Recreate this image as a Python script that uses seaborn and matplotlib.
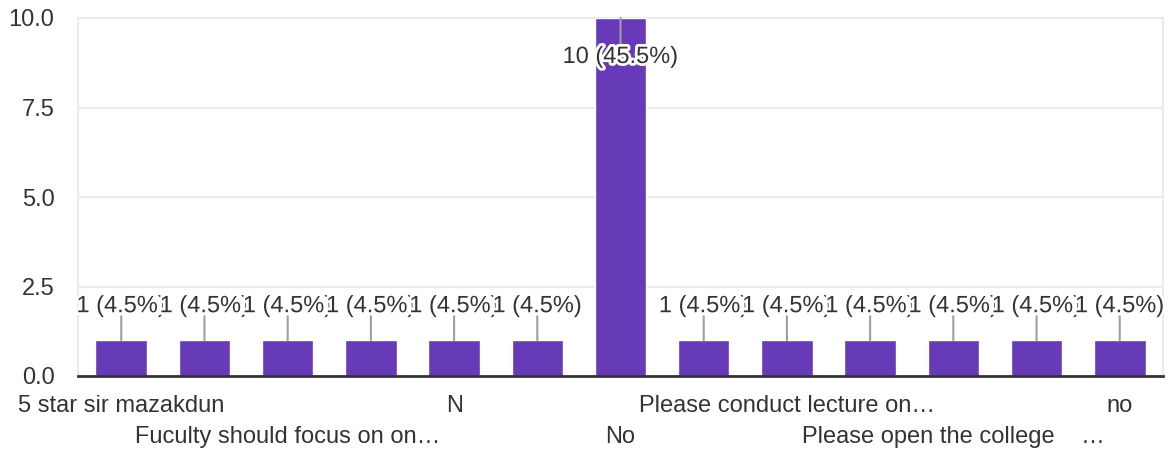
import matplotlib
matplotlib.use("Agg")
import matplotlib.pyplot as plt
import matplotlib.patheffects as pe
import seaborn as sns
import pandas as pd

# responses (only every other label is shown on the axis in the original)
responses = ["5 star sir mazakdun", "", "Fuculty should focus on on…", "", "N", "",
             "No", "", "Please conduct lecture on…", "", "Please open the college    …",
             "", "no"]
counts = [1, 1, 1, 1, 1, 1, 10, 1, 1, 1, 1, 1, 1]
yticks = [0.0, 2.5, 5.0, 7.5, 10.0]

total = sum(counts)
df = pd.DataFrame({"pos": list(range(len(counts))), "count": counts})

sns.set_theme(style="white")
plt.rcParams["font.family"] = ["Liberation Sans", "DejaVu Sans"]
FS = 17
TXT = "#333333"

fig = plt.figure(figsize=(11.72, 4.55), dpi=100)
ax = fig.add_axes([78 / 1172, 79 / 455, 1085 / 1172, 358 / 455])

sns.barplot(data=df, x="pos", y="count", color="#673ab7", saturation=1,
            width=0.62, ax=ax, zorder=3)

ax.set_xlim(-0.52, len(counts) - 0.48)
ax.set_ylim(0, 10)
ax.set_yticks(yticks)
ax.set_yticklabels([f"{t:.1f}" for t in yticks], fontsize=FS, color=TXT)
ax.yaxis.grid(True, color="#ebebeb", lw=1.5, zorder=0)
ax.set_xlabel("")
ax.set_ylabel("")

# visible labels alternate over two rows: major ticks = row 1, minor = row 2
shown = [i for i, r in enumerate(responses) if r]
row1 = [i for i in shown if (i // 2) % 2 == 0]
row2 = [i for i in shown if (i // 2) % 2 == 1]
ax.set_xticks(row1)
ax.set_xticklabels([responses[i] for i in row1], fontsize=FS, color=TXT)
ax.set_xticks(row2, minor=True)
ax.set_xticklabels([responses[i] for i in row2], minor=True, fontsize=FS, color=TXT)
ax.tick_params(axis="x", which="major", length=0, pad=14)
ax.tick_params(axis="x", which="minor", length=0, pad=36)
ax.tick_params(axis="y", length=0, pad=17)

for s in ["left", "right", "top"]:
    ax.spines[s].set_color("#ebebeb")
    ax.spines[s].set_linewidth(1.5)
ax.spines["bottom"].set_color("#333333")
ax.spines["bottom"].set_linewidth(2)
ax.spines["bottom"].set_zorder(5)

halo = [pe.withStroke(linewidth=4, foreground="white")]
for i, c in enumerate(counts):
    txt = f"{c} ({c / total * 100:.1f}%)"
    if c > 5:
        line_end, text_off = -25, -39
    else:
        line_end, text_off = 24, 34
    ax.annotate("", xy=(i, c), xytext=(0, line_end), textcoords="offset pixels",
                arrowprops=dict(arrowstyle="-", color="#9e9e9e", lw=1.5,
                                shrinkA=0, shrinkB=0), zorder=4, annotation_clip=False)
    ax.annotate(txt, xy=(i, c), xytext=(0, text_off), textcoords="offset pixels",
                ha="center", va="center", fontsize=FS, color=TXT,
                path_effects=halo, zorder=6, annotation_clip=False)

fig.savefig("out.png", dpi=100)
